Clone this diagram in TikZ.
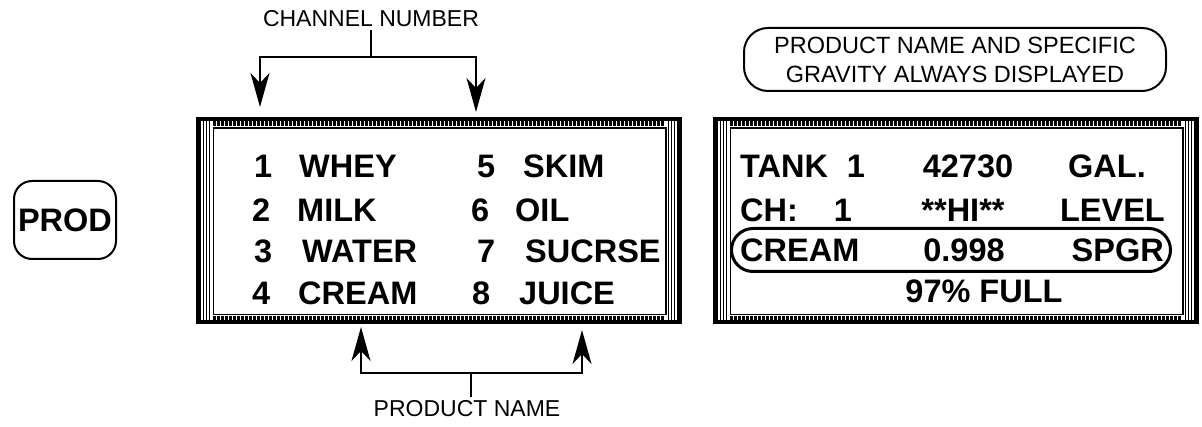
\documentclass[tikz,border=0pt]{standalone}
\usepackage{fontspec}
\setmainfont{Liberation Sans}
\usepackage{tikz}
\usetikzlibrary{arrows.meta, calc}
\tikzset{
  lcd/.style={font=\fontsize{32.5}{36}\selectfont\bfseries, inner sep=0pt},
  display/.style={draw, line width=3.5pt, minimum width=482pt, minimum height=203pt, inner sep=0pt},
  caption/.style={font=\fontsize{23}{27}\selectfont},
  lead/.style={line width=2pt},
  tip/.style={lead, -{Stealth[length=34pt, width=19pt, inset=10pt]}},
}

\begin{document}
\begin{tikzpicture}[x=1pt, y=-1pt]
  \useasboundingbox (0,0) rectangle (1202,427);

  \node[lcd, draw, line width=2pt, rounded corners=18pt, minimum width=102pt, minimum height=78pt] (prod) at (65,220) {PROD};

  \node[display] (lcdl) at (439,220.5) {};
  \node[display] (lcdr) at (956,220.5) {};
  \foreach \d in {lcdl, lcdr} {
    \fill (\d.north west) rectangle ($(\d.south west)+(5,0)$);
    \fill (\d.north east) rectangle ($(\d.south east)+(-5,0)$);
    \foreach \s in {7.5, 10.5, 13.5} {
      \draw[line width=1.2pt] ($(\d.north west)+(\s,0)$) -- ($(\d.south west)+(\s,0)$);
      \draw[line width=1.2pt] ($(\d.north east)+(-\s,0)$) -- ($(\d.south east)+(-\s,0)$);
    }
    \draw[line width=5pt, dash pattern=on 3pt off 1pt] ($(\d.north west)+(17,6.5)$) -- ($(\d.north east)+(-17,6.5)$);
    \draw[line width=5pt, dash pattern=on 3pt off 1pt] ($(\d.south west)+(17,-5)$) -- ($(\d.south east)+(-17,-5)$);
    \draw[line width=1.5pt] ($(\d.north west)+(17,11)$) rectangle ($(\d.south east)+(-16,-9)$);
  }

  \foreach \n/\prd/\xn/\xt/\yb in {1/WHEY/254/299/178, 2/MILK/252/297/221.5, 3/WATER/254/302/263, 4/CREAM/252/298/305,
      5/SKIM/477/523/178, 6/OIL/471/515/221.5, 7/SUCRSE/477/525/263, 8/JUICE/472/519/305} {
    \node[lcd, anchor=base west] (num\n) at (\xn,\yb) {\n};
    \node[lcd, anchor=base west] (prd\n) at (\xt,\yb) {\prd};
  }

  \node[lcd, anchor=base west] (tank) at (740,178) {TANK};
  \node[lcd, anchor=base] (tanknum) at (856,178) {1};
  \node[lcd, anchor=base] (vol) at (968,178) {42730};
  \node[lcd, anchor=base west] (volunit) at (1068,178) {GAL.};
  \node[lcd, anchor=base west] (chan) at (740,221.5) {CH:};
  \node[lcd, anchor=base] (channum) at (843,221.5) {1};
  \node[lcd, anchor=base] (alarm) at (963,221.5) {**HI**};
  \node[lcd, anchor=base east] (alarmtype) at (1165,221.5) {LEVEL};
  \node[draw, line width=3pt, rounded corners=21.5pt, minimum width=439pt, minimum height=43pt] (selrow) at (951,250) {};
  \node[lcd, anchor=base west] (prdname) at (740,262) {CREAM};
  \node[lcd, anchor=base] (sg) at (964,262) {0.998};
  \node[lcd, anchor=base east] (sgunit) at (1164,262) {SPGR};
  \node[lcd, anchor=base] (pct) at (984,303) {97\% FULL};

  \node[caption, draw, line width=2pt, rounded corners=24pt, minimum width=422pt, minimum height=63pt,
    align=center, font=\fontsize{23.5}{29}\selectfont] (note) at (955,59.5) {PRODUCT NAME AND SPECIFIC\\GRAVITY ALWAYS DISPLAYED};

  \node[caption] (chlab) at (371,18.5) {CHANNEL NUMBER};
  \coordinate (chsplit) at (371,57);
  \coordinate (chtip1) at (260,107);
  \coordinate (chtip2) at (476,112);
  \draw[lead] (chlab.south) -- (chsplit);
  \draw[tip] (chsplit) -| (chtip1);
  \draw[tip] (chsplit) -| (chtip2);

  \node[caption] (pnlab) at (467,408.5) {PRODUCT NAME};
  \coordinate (pnsplit) at (471,373);
  \coordinate (pntip1) at (361,327);
  \coordinate (pntip2) at (582,330);
  \draw[lead] (pnlab.north -| pnsplit) -- (pnsplit);
  \draw[tip] (pnsplit) -| (pntip1);
  \draw[tip] (pnsplit) -| (pntip2);
\end{tikzpicture}
\end{document}
